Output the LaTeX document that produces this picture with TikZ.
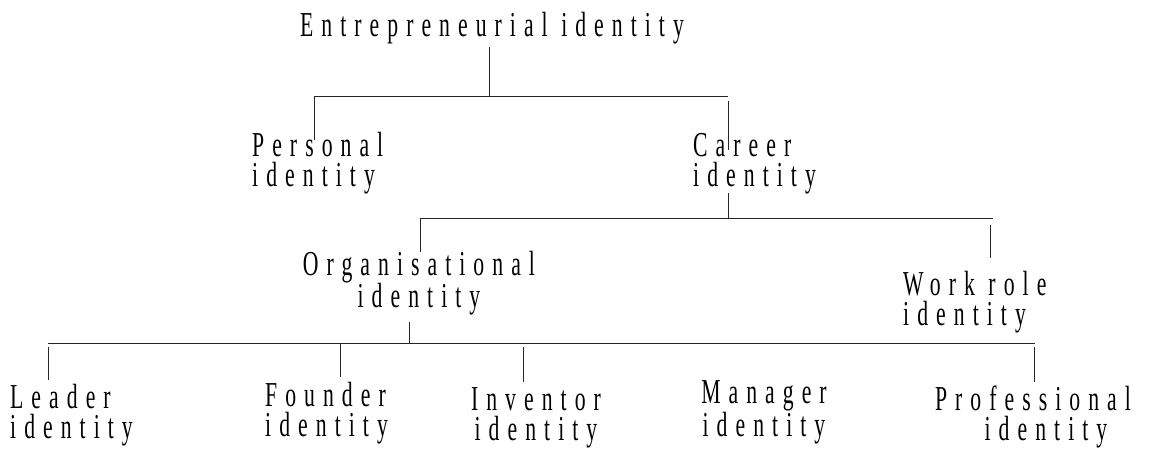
\documentclass[tikz,border=0pt]{standalone}
\usepackage{fontspec}
\newfontfamily\dfont[FakeStretch=0.62,LetterSpace=23]{Liberation Serif}
\begin{document}
\begin{tikzpicture}[x=1pt,y=-1pt,
  lbl/.style={inner sep=0pt,font=\dfont\fontsize{35}{30}\selectfont},
  lleft/.style={lbl,align=left,anchor=base west},
  lcenter/.style={lbl,align=center,anchor=base},
  conn/.style={line width=0.9pt,black!85}]
\useasboundingbox (0,0) rectangle (1149,449);
% labels (anchor = baseline of the last line)
\node[lcenter] (root) at (492,37) {Entrepreneurial identity};
\node[lleft] (pers) at (252,187) {Personal\\identity};
\node[lleft] (car) at (693,187) {Career\\identity};
\node[lcenter] (org) at (419,308) {Organisational\\identity};
\node[lleft] (work) at (903,325) {Work role\\identity};
\node[lleft] (lead) at (10,438) {Leader\\identity};
\node[lleft] (found) at (265,436) {Founder\\identity};
\node[lcenter] (inv) at (536,440) {Inventor\\identity};
\node[lcenter] (man) at (764,436) {Manager\\identity};
\node[lcenter] (prof) at (1033,440) {Professional\\\hspace*{26pt}identity};
% junction coordinates
\coordinate (r1) at (489,47);
\coordinate (j1) at (489,96);
\coordinate (p1) at (314,96);
\coordinate (p2) at (314,140);
\coordinate (c0) at (728,96);
\coordinate (c1) at (728,101);
\coordinate (c2) at (728,150);
\coordinate (c3) at (728,193);
\coordinate (j2) at (728,218);
\coordinate (o1) at (420,218);
\coordinate (o2) at (420,252);
\coordinate (w0) at (993,218);
\coordinate (w1) at (990,225);
\coordinate (w2) at (990,258);
\coordinate (o3) at (409,322);
\coordinate (j3) at (409,343);
\coordinate (b0) at (48,343);
\coordinate (b9) at (1035,343);
\coordinate (l1) at (48,347);
\coordinate (l2) at (48,380);
\coordinate (f2) at (340,377);
\coordinate (f1) at (340,343);
\coordinate (i1) at (523,347);
\coordinate (i2) at (523,382);
\coordinate (q1) at (1034,347);
\coordinate (q2) at (1034,382);
% connectors
\draw[conn] (r1) -- (j1);
\draw[conn] (p2) -- (p1) -- (c0);
\draw[conn] (c1) -- (c2);
\draw[conn] (c3) -- (j2);
\draw[conn] (o2) -- (o1) -- (w0);
\draw[conn] (w1) -- (w2);
\draw[conn] (o3) -- (j3);
\draw[conn] (b0) -- (b9);
\draw[conn] (l1) -- (l2);
\draw[conn] (f1) -- (f2);
\draw[conn] (i1) -- (i2);
\draw[conn] (q1) -- (q2);
\end{tikzpicture}
\end{document}
